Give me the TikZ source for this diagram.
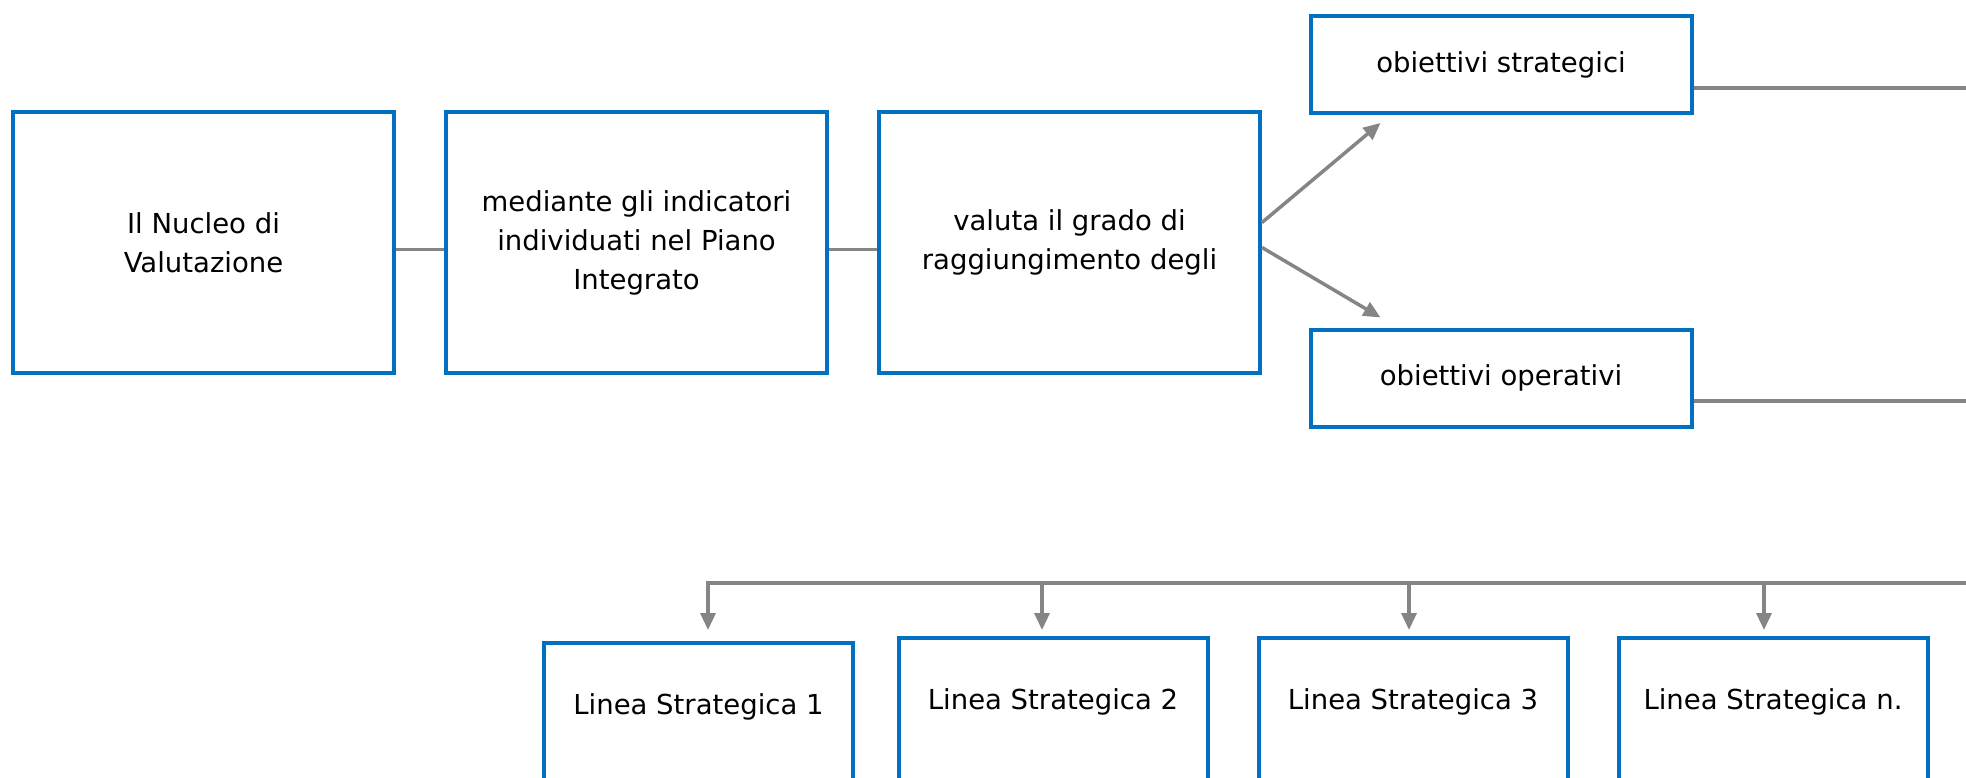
\documentclass[tikz,border=0pt]{standalone}
\usepackage{fontspec}
\setmainfont{DejaVu Sans}
\usetikzlibrary{positioning,arrows.meta}
\definecolor{boxblue}{HTML}{0070C0}
\definecolor{linkgray}{HTML}{858585}
\tikzset{
  blok/.style={draw=boxblue, line width=4pt, minimum width=381pt, minimum height=261pt,
    align=center, font=\fontsize{27.5}{39}\selectfont},
  obiettivo/.style={blok, minimum height=97pt},
  linea/.style={blok, minimum width=309pt, minimum height=0pt, inner ysep=50pt,
    text height=21pt, text depth=150pt},
  link/.style={draw=linkgray, line width=3.5pt},
  freccia/.style={link, -{Triangle[width=15pt,length=17pt]}},
}
\begin{document}
\begin{tikzpicture}[x=1pt,y=-1pt]
\useasboundingbox (0,0) rectangle (1966,777);
\clip (0,0) rectangle (1966,777);

% top row
\node[blok] (nucleo) at (203.5,242.5) {Il Nucleo di\\Valutazione};
\node[blok, right=48pt of nucleo] (indicatori) {mediante gli indicatori\\individuati nel Piano\\Integrato};
\node[blok, right=48pt of indicatori] (grado) {valuta il grado di\\raggiungimento degli};

\node[obiettivo] (strategici) at (1501,64.5) {obiettivi strategici};
\node[obiettivo] (operativi) at (1501,378) {obiettivi operativi};

\draw[link] ([yshift=-7pt]nucleo.east) -- ([yshift=-7pt]indicatori.west);
\draw[link] ([yshift=-7pt]indicatori.east) -- ([yshift=-7pt]grado.west);

\draw[freccia] ([yshift=20pt]grado.east) -- ([xshift=72pt,yshift=-8pt]strategici.south west);
\draw[freccia] ([yshift=-5pt]grado.east) -- ([xshift=72pt,yshift=10pt]operativi.north west);

% lines leaving the picture on the right
\coordinate (fineS) at (1990,88);
\coordinate (fineO) at (1990,401);
\coordinate (bus) at (1990,583);
\draw[link] ([yshift=-23.5pt]strategici.east) -- (fineS);
\draw[link] ([yshift=-23pt]operativi.east) -- (fineO);

% strategic lines
\node[linea, anchor=north] (linea1) at (698.5,641) {Linea Strategica 1};
\node[linea, anchor=north] (linea2) at (1053,636) {Linea Strategica 2};
\node[linea, anchor=north] (linea3) at (1413,636) {Linea Strategica 3};
\node[linea, anchor=north] (linea4) at (1773,636) {Linea Strategica n.};

\draw[freccia] (bus) -| ([xshift=9.5pt,yshift=11pt]linea1.north);
\foreach \n/\dx in {2/-11,3/-4,4/-9}
  \draw[freccia] ([xshift=\dx pt]linea\n.north |- bus) -- ([xshift=\dx pt,yshift=6pt]linea\n.north);
\end{tikzpicture}
\end{document}
